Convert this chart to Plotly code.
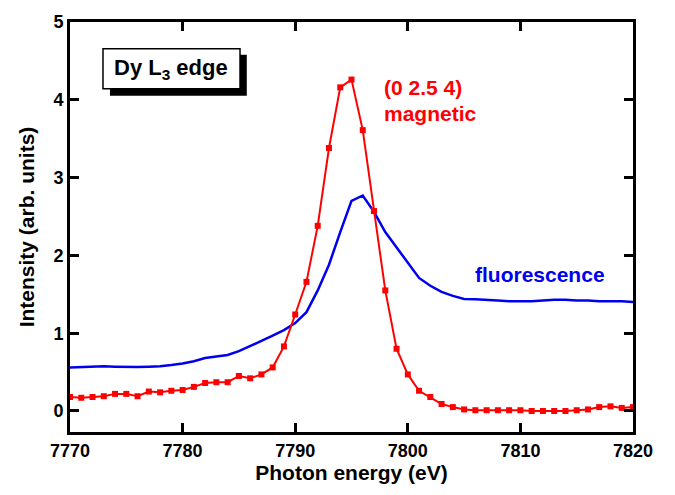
import plotly.graph_objects as go

energy_mag = list(range(7770, 7821))
magnetic = [0.18, 0.17, 0.18, 0.19, 0.22, 0.22, 0.19, 0.25, 0.24, 0.26,
            0.27, 0.31, 0.36, 0.37, 0.37, 0.45, 0.42, 0.47, 0.56, 0.83,
            1.24, 1.66, 2.38, 3.38, 4.16, 4.26, 3.61, 2.57, 1.55, 0.80,
            0.47, 0.26, 0.18, 0.09, 0.05, 0.02, 0.01, 0.01, 0.01, 0.01,
            0.01, 0.00, 0.00, 0.00, 0.00, 0.01, 0.02, 0.05, 0.06, 0.04, 0.05]

energy_fl = list(range(7770, 7821))
fluorescence = [0.56, 0.565, 0.57, 0.575, 0.57, 0.565, 0.565, 0.57, 0.575, 0.59,
                0.61, 0.64, 0.68, 0.70, 0.72, 0.77, 0.83, 0.90, 0.97, 1.04,
                1.13, 1.27, 1.55, 1.88, 2.30, 2.70, 2.77, 2.56, 2.30, 2.10,
                1.90, 1.71, 1.61, 1.53, 1.48, 1.44, 1.435, 1.43, 1.42, 1.41,
                1.41, 1.41, 1.42, 1.43, 1.43, 1.42, 1.42, 1.41, 1.41, 1.41, 1.40]

x_tick_start, x_tick_step = 7770, 10
y_tick_start, y_tick_step = 0, 1

FONT = "Liberation Sans, Arial, Helvetica, sans-serif"
RED = "#ff0000"
BLUE = "#0000ee"

fig = go.Figure()
fig.add_trace(go.Scatter(x=energy_fl, y=fluorescence, mode="lines",
                         line=dict(color=BLUE, width=2.5), showlegend=False))
fig.add_trace(go.Scatter(x=energy_mag, y=magnetic, mode="lines+markers",
                         line=dict(color=RED, width=2),
                         marker=dict(symbol="square", size=6, color=RED),
                         showlegend=False))

axis_common = dict(
    showline=True, linecolor="black", linewidth=2.8, mirror="ticks",
    ticks="inside", ticklen=9, tickwidth=3, tickcolor="black",
    showgrid=False, zeroline=False,
    tickfont=dict(family=FONT, size=18, color="black", weight="bold"),
)

fig.update_xaxes(range=[7770, 7820], tick0=x_tick_start, dtick=x_tick_step,
                 title=dict(text="Photon energy (eV)",
                            font=dict(family=FONT, size=21, color="black", weight="bold"),
                            standoff=6),
                 **axis_common)
fig.update_yaxes(range=[-0.27, 5], tick0=y_tick_start, dtick=y_tick_step,
                 title=dict(text="Intensity (arb. units)",
                            font=dict(family=FONT, size=21, color="black", weight="bold"),
                            standoff=14),
                 **axis_common)

# Label box with shadow
fig.add_shape(type="rect", xref="paper", yref="paper",
              x0=0.071, x1=0.314, y0=0.82, y1=0.92,
              fillcolor="black", line=dict(width=0))
fig.add_shape(type="rect", xref="paper", yref="paper",
              x0=0.0586, x1=0.302, y0=0.837, y1=0.935,
              fillcolor="white", line=dict(color="black", width=1.5))
fig.add_annotation(xref="paper", yref="paper", x=0.18, y=0.886,
                   text="<b>Dy L<sub>3</sub> edge</b>", showarrow=False,
                   xanchor="center", yanchor="middle",
                   font=dict(family=FONT, size=22, color="black"))

fig.add_annotation(x=7797.7, y=4.16, text="<b>(0 2.5 4)</b>", showarrow=False,
                   xanchor="left", yanchor="middle",
                   font=dict(family=FONT, size=21, color=RED))
fig.add_annotation(x=7797.7, y=3.82, text="<b>magnetic</b>", showarrow=False,
                   xanchor="left", yanchor="middle",
                   font=dict(family=FONT, size=21, color=RED))
fig.add_annotation(x=7805.8, y=1.75, text="<b>fluorescence</b>", showarrow=False,
                   xanchor="left", yanchor="middle",
                   font=dict(family=FONT, size=21, color=BLUE))

fig.update_layout(width=675, height=495,
                  margin=dict(l=70, r=42, t=14, b=63),
                  paper_bgcolor="white", plot_bgcolor="white")

fig.write_html("out.html")
